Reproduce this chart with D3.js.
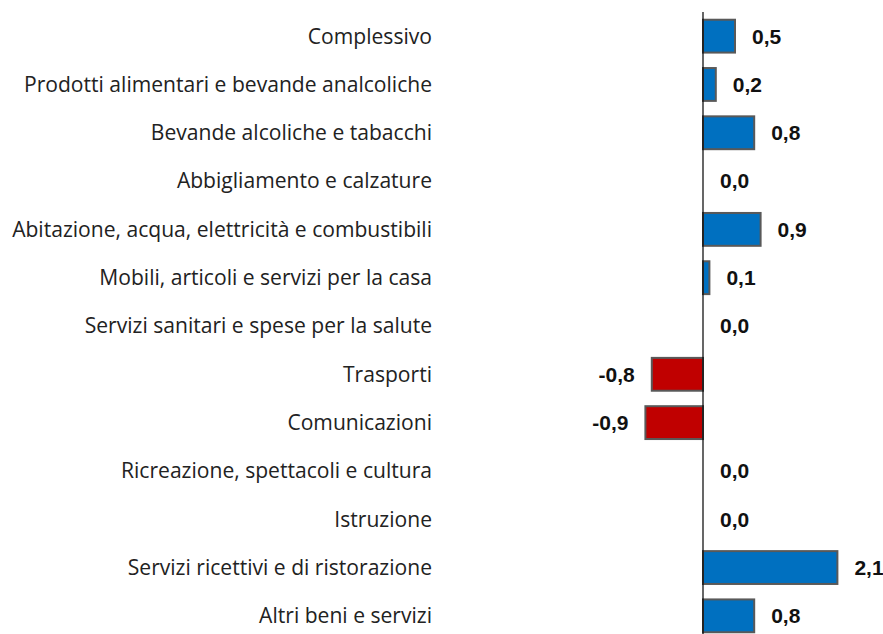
<!DOCTYPE html>
<html>
<head>
<meta charset="utf-8">
<script src="https://cdn.jsdelivr.net/npm/d3@7"></script>
<style>
  body { margin: 0; background: #fff; }
</style>
</head>
<body>
<div id="chart"></div>
<script>
var categories = [
    "Complessivo",
    "Prodotti alimentari e bevande analcoliche",
    "Bevande alcoliche e tabacchi",
    "Abbigliamento e calzature",
    "Abitazione, acqua, elettricità e combustibili",
    "Mobili, articoli e servizi per la casa",
    "Servizi sanitari e spese per la salute",
    "Trasporti",
    "Comunicazioni",
    "Ricreazione, spettacoli e cultura",
    "Istruzione",
    "Servizi ricettivi e di ristorazione",
    "Altri beni e servizi"
];
var values = [0.5, 0.2, 0.8, 0.0, 0.9, 0.1, 0.0, -0.8, -0.9, 0.0, 0.0, 2.1, 0.8];

var width = 883, height = 634;

var rows = categories.map(function(c, i) { return {cat: c, v: values[i]}; });

var svg = d3.select("#chart").append("svg")
    .attr("width", width)
    .attr("height", height);

// 64px per point, zero line at 703
var x = d3.scaleLinear().domain([0, 1]).range([703, 767]);
var y = d3.scaleBand().domain(categories).range([12, 640]).paddingInner(0.32).paddingOuter(0.16);

var fmt = function(v) { return v.toFixed(1).replace(".", ","); };

// category labels
var labels = svg.append("g")
    .selectAll("text")
    .data(categories)
    .enter().append("text")
    .attr("x", 432)
    .attr("y", function(d) { return y(d) + y.bandwidth() / 2; })
    .attr("dy", "0.35em")
    .attr("text-anchor", "end")
    .style("font-family", "'Open Sans', 'Liberation Sans', sans-serif")
    .style("font-size", "18px")
    .style("fill", "#222")
    .text(function(d) { return d; });

// squeeze labels to match the narrow original font
var longest = 0;
labels.each(function() { longest = Math.max(longest, this.getComputedTextLength()); });
labels.style("font-size", (18 * 420 / longest) + "px");

// bars (zero values get no bar)
svg.append("g")
    .selectAll("rect")
    .data(rows.filter(function(d) { return d.v !== 0; }))
    .enter().append("rect")
    .attr("x", function(d) { return Math.min(x(0), x(d.v)); })
    .attr("y", function(d) { return y(d.cat); })
    .attr("width", function(d) { return Math.abs(x(d.v) - x(0)); })
    .attr("height", y.bandwidth())
    .attr("fill", function(d) { return d.v < 0 ? "#C00000" : "#0070C0"; })
    .attr("stroke", "#595959")
    .attr("stroke-width", 2);

// zero axis
svg.append("line")
    .attr("x1", x(0)).attr("x2", x(0))
    .attr("y1", 12).attr("y2", height)
    .attr("stroke", "#000")
    .attr("stroke-width", 1.2);

// value labels
svg.append("g")
    .selectAll("text")
    .data(rows)
    .enter().append("text")
    .attr("x", function(d) { return d.v < 0 ? x(d.v) - 17 : x(d.v) + 17; })
    .attr("y", function(d) { return y(d.cat) + y.bandwidth() / 2; })
    .attr("dy", "0.35em")
    .attr("text-anchor", function(d) { return d.v < 0 ? "end" : "start"; })
    .style("font-family", "'Liberation Sans', Arial, sans-serif")
    .style("font-weight", "bold")
    .style("font-size", "21px")
    .style("fill", "#111")
    .text(function(d) { return fmt(d.v); });
</script>
</body>
</html>
